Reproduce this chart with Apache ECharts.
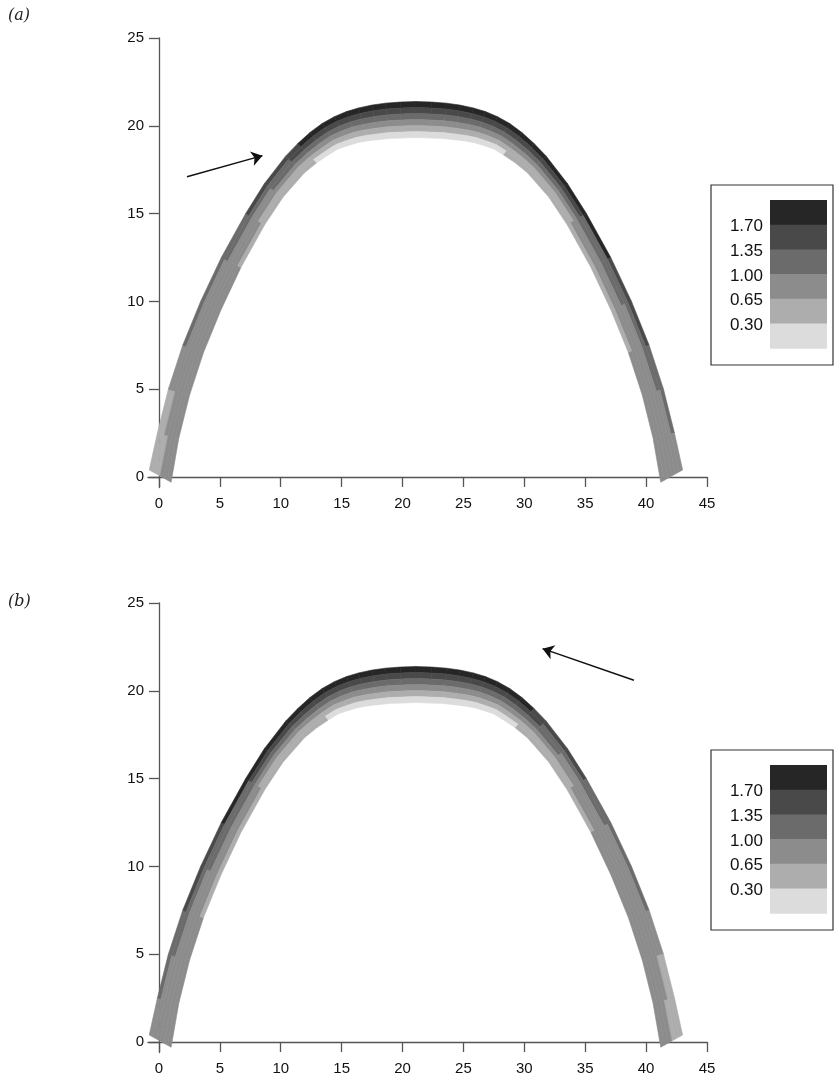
<!DOCTYPE html>
<html>
<head>
<meta charset="utf-8">
<script src="https://cdn.jsdelivr.net/npm/echarts@6/dist/echarts.min.js"></script>
<style>
  html, body { margin: 0; padding: 0; background: #fff; }
  #chart { width: 834px; height: 1080px; }
</style>
</head>
<body>
<div id="chart"></div>
<script>
// tick values
var xTicks = [0, 5, 10, 15, 20, 25, 30, 35, 40, 45]
var yTicks = [0, 5, 10, 15, 20, 25]

// contour levels and greys (lightest -> darkest)
var levelBreaks = [0.30, 0.65, 1.00, 1.35, 1.70]
var levelColors = ['#dcdcdc', '#adadad', '#8c8c8c', '#6b6b6b', '#494949', '#262626']

// arch edges, left foot -> crown -> right foot
var outerEdge = [
  [-0.8, 0.4], [-0.13, 2.5], [0.77, 5.0], [1.95, 7.5], [3.42, 10.0], [5.12, 12.5],
  [7.12, 15.0], [8.65, 16.7], [10.4, 18.27], [11.4, 18.99], [12.4, 19.62], [13.4, 20.13],
  [14.4, 20.52], [15.4, 20.81], [16.4, 21.02], [17.5, 21.18], [18.6, 21.29], [19.8, 21.35],
  [21.1, 21.38],
  [22.4, 21.35], [23.6, 21.29], [24.7, 21.18], [25.8, 21.02], [26.8, 20.81], [27.8, 20.52],
  [28.8, 20.13], [29.8, 19.62], [30.8, 18.99], [31.8, 18.27], [33.55, 16.7], [35.1, 15.0],
  [37.1, 12.5], [38.8, 10.0], [40.25, 7.5], [41.43, 5.0], [42.33, 2.5], [43.0, 0.4]
]
var innerEdge = [
  [1.0, -0.3], [1.63, 2.21], [2.51, 4.65], [3.65, 7.07], [5.08, 9.5], [6.73, 11.93],
  [8.68, 14.36], [10.2, 15.95], [11.95, 17.33], [12.95, 17.89], [13.91, 18.34], [14.74, 18.69],
  [15.55, 18.88], [16.32, 19.04], [17.1, 19.14], [18.0, 19.21], [18.91, 19.28], [19.95, 19.3],
  [21.1, 19.33],
  [22.25, 19.3], [23.29, 19.28], [24.2, 19.21], [25.1, 19.14], [25.88, 19.04], [26.65, 18.88],
  [27.46, 18.69], [28.29, 18.34], [29.25, 17.89], [30.25, 17.33], [32.0, 15.95], [33.52, 14.36],
  [35.47, 11.93], [37.12, 9.5], [38.55, 7.07], [39.69, 4.65], [40.57, 2.21], [41.2, -0.3]
]

// values per segment between stations, outer layer -> inner layer
var valuesA = [
  [0.50, 0.50, 0.55, 0.80, 0.80, 0.75],
  [0.55, 0.60, 0.80, 0.80, 0.80, 0.75],
  [0.90, 0.85, 0.80, 0.80, 0.75, 0.70],
  [1.02, 0.90, 0.85, 0.80, 0.75, 0.70],
  [1.05, 0.95, 0.85, 0.80, 0.75, 0.68],
  [1.20, 1.00, 0.90, 0.80, 0.70, 0.62],
  [1.40, 1.10, 0.95, 0.80, 0.60, 0.50],
  [1.55, 1.25, 1.00, 0.80, 0.55, 0.40],
  [1.65, 1.38, 1.05, 0.80, 0.55, 0.35],
  [1.72, 1.42, 1.10, 0.80, 0.50, 0.28],
  [1.75, 1.45, 1.10, 0.80, 0.50, 0.25],
  [1.78, 1.48, 1.12, 0.80, 0.48, 0.22],
  [1.80, 1.50, 1.15, 0.80, 0.45, 0.20],
  [1.82, 1.50, 1.15, 0.82, 0.45, 0.18],
  [1.85, 1.52, 1.18, 0.82, 0.45, 0.15],
  [1.85, 1.52, 1.18, 0.85, 0.45, 0.15],
  [1.85, 1.55, 1.20, 0.85, 0.45, 0.15],
  [1.85, 1.55, 1.20, 0.85, 0.45, 0.15],
  [1.85, 1.55, 1.20, 0.85, 0.45, 0.15],
  [1.85, 1.55, 1.20, 0.85, 0.45, 0.15],
  [1.85, 1.52, 1.18, 0.85, 0.45, 0.15],
  [1.85, 1.52, 1.18, 0.85, 0.45, 0.18],
  [1.85, 1.52, 1.18, 0.82, 0.48, 0.20],
  [1.82, 1.50, 1.15, 0.82, 0.50, 0.22],
  [1.80, 1.50, 1.15, 0.80, 0.50, 0.25],
  [1.80, 1.48, 1.12, 0.80, 0.52, 0.28],
  [1.78, 1.45, 1.10, 0.80, 0.55, 0.30],
  [1.75, 1.42, 1.10, 0.80, 0.55, 0.35],
  [1.75, 1.40, 1.08, 0.82, 0.60, 0.40],
  [1.72, 1.38, 1.05, 0.82, 0.62, 0.45],
  [1.72, 1.30, 1.02, 0.85, 0.65, 0.50],
  [1.50, 1.20, 1.00, 0.85, 0.68, 0.55],
  [1.40, 1.10, 0.95, 0.85, 0.70, 0.60],
  [1.15, 1.02, 0.90, 0.85, 0.75, 0.65],
  [1.05, 0.95, 0.88, 0.82, 0.75, 0.68],
  [0.95, 0.90, 0.85, 0.80, 0.75, 0.70]
]
var valuesB = [
  [0.95, 0.90, 0.85, 0.80, 0.75, 0.70],
  [1.05, 0.95, 0.88, 0.82, 0.75, 0.68],
  [1.15, 1.02, 0.90, 0.85, 0.75, 0.65],
  [1.40, 1.10, 0.95, 0.85, 0.70, 0.60],
  [1.50, 1.20, 1.00, 0.85, 0.68, 0.55],
  [1.72, 1.30, 1.02, 0.85, 0.65, 0.50],
  [1.72, 1.38, 1.05, 0.82, 0.62, 0.45],
  [1.75, 1.40, 1.08, 0.82, 0.60, 0.40],
  [1.75, 1.42, 1.10, 0.80, 0.55, 0.35],
  [1.78, 1.45, 1.10, 0.80, 0.55, 0.30],
  [1.80, 1.48, 1.12, 0.80, 0.52, 0.28],
  [1.80, 1.50, 1.15, 0.80, 0.50, 0.25],
  [1.82, 1.50, 1.15, 0.82, 0.50, 0.22],
  [1.85, 1.52, 1.18, 0.82, 0.48, 0.20],
  [1.85, 1.52, 1.18, 0.85, 0.45, 0.18],
  [1.85, 1.52, 1.18, 0.85, 0.45, 0.15],
  [1.85, 1.55, 1.20, 0.85, 0.45, 0.15],
  [1.85, 1.55, 1.20, 0.85, 0.45, 0.15],
  [1.85, 1.55, 1.20, 0.85, 0.45, 0.15],
  [1.85, 1.55, 1.20, 0.85, 0.45, 0.15],
  [1.85, 1.52, 1.18, 0.85, 0.45, 0.15],
  [1.85, 1.52, 1.18, 0.82, 0.45, 0.15],
  [1.82, 1.50, 1.15, 0.82, 0.45, 0.18],
  [1.80, 1.50, 1.15, 0.80, 0.45, 0.20],
  [1.78, 1.48, 1.12, 0.80, 0.48, 0.22],
  [1.75, 1.45, 1.10, 0.80, 0.50, 0.25],
  [1.72, 1.42, 1.10, 0.80, 0.50, 0.28],
  [1.65, 1.38, 1.05, 0.80, 0.55, 0.35],
  [1.55, 1.25, 1.00, 0.80, 0.55, 0.40],
  [1.40, 1.10, 0.95, 0.80, 0.60, 0.50],
  [1.20, 1.00, 0.90, 0.80, 0.70, 0.62],
  [1.05, 0.95, 0.85, 0.80, 0.75, 0.68],
  [1.02, 0.90, 0.85, 0.80, 0.75, 0.70],
  [0.90, 0.85, 0.80, 0.80, 0.75, 0.70],
  [0.55, 0.60, 0.80, 0.80, 0.80, 0.75],
  [0.50, 0.50, 0.55, 0.80, 0.80, 0.75]
]

// load arrows (data coords)
var arrowA = [[2.3, 17.1], [8.5, 18.3]]
var arrowB = [[39.0, 20.6], [31.5, 22.4]]

var chart = echarts.init(document.getElementById('chart'))
var nLayers = valuesA[0].length

function toCells(values) {
  let out = []
  values.forEach((row, s) => {
    row.forEach((v, l) => out.push([s, l, v]))
  })
  return out
}

function renderArch(params, api) {
  let s = api.value(0)
  let l = api.value(1)
  let f0 = l / nLayers
  let f1 = (l + 1) / nLayers
  let pt = (i, f) => api.coord([
    outerEdge[i][0] + (innerEdge[i][0] - outerEdge[i][0]) * f,
    outerEdge[i][1] + (innerEdge[i][1] - outerEdge[i][1]) * f,
  ])
  let color = api.visual('color')
  return {
    type: 'polygon',
    shape: { points: [pt(s, f0), pt(s + 1, f0), pt(s + 1, f1), pt(s, f1)] },
    style: { fill: color, stroke: color, lineWidth: 0.6 },
  }
}

function makeAxes(idx) {
  let font = { fontFamily: 'Liberation Sans', fontSize: 15, color: '#111' }
  let line = { color: '#555', width: 1.3 }
  return {
    x: {
      gridIndex: idx, type: 'value', min: -0.9, max: 45,
      axisLine: { onZero: true, lineStyle: line },
      axisTick: { customValues: xTicks, length: 10, lineStyle: line },
      axisLabel: Object.assign({ customValues: xTicks, margin: 9 }, font),
      splitLine: { show: false },
    },
    y: {
      gridIndex: idx, type: 'value', min: -0.6, max: 25,
      axisLine: { onZero: true, lineStyle: line },
      axisTick: { customValues: yTicks, length: 10, lineStyle: line },
      axisLabel: Object.assign({ customValues: yTicks, margin: 4 }, font),
      splitLine: { show: false },
    },
  }
}

function legendBox(top) {
  let items = [{
    type: 'rect',
    shape: { x: 711, y: top, width: 122, height: 180 },
    style: { fill: '#fff', stroke: '#333', lineWidth: 1.2 },
  }]
  let h = 24.7
  for (let i = 0; i < levelColors.length; i++) {
    items.push({
      type: 'rect',
      shape: { x: 770, y: top + 15 + i * h, width: 57, height: h + 0.5 },
      style: { fill: levelColors[levelColors.length - 1 - i] },
    })
  }
  for (let i = 0; i < levelBreaks.length; i++) {
    items.push({
      type: 'text',
      x: 763,
      y: top + 15 + (i + 1) * h + 2,
      style: {
        text: levelBreaks[levelBreaks.length - 1 - i].toFixed(2),
        fontFamily: 'Liberation Sans', fontSize: 17, fill: '#111',
        align: 'right', verticalAlign: 'middle',
      },
    })
  }
  return items
}

var axA = makeAxes(0)
var axB = makeAxes(1)
var pieces = levelColors.map((c, i) => {
  let p = { color: c }
  if (i > 0) p.gte = levelBreaks[i - 1]
  if (i < levelBreaks.length) p.lt = levelBreaks[i]
  return p
})

var option = {
  animation: false,
  backgroundColor: '#fff',
  title: [
    { text: '(a)', left: 8, top: 8, padding: 0,
      textStyle: { fontFamily: 'DejaVu Serif', fontStyle: 'italic', fontWeight: 'normal', fontSize: 16, color: '#222' } },
    { text: '(b)', left: 8, top: 594, padding: 0,
      textStyle: { fontFamily: 'DejaVu Serif', fontStyle: 'italic', fontWeight: 'normal', fontSize: 16, color: '#222' } },
  ],
  grid: [
    { left: 148, right: 127, top: 38, bottom: 592.5 },
    { left: 148, right: 127, top: 603, bottom: 27.5 },
  ],
  xAxis: [axA.x, axB.x],
  yAxis: [axA.y, axB.y],
  visualMap: {
    type: 'piecewise',
    show: false,
    dimension: 2,
    seriesIndex: [0, 1],
    pieces: pieces,
  },
  series: [
    { type: 'custom', xAxisIndex: 0, yAxisIndex: 0, renderItem: renderArch, data: toCells(valuesA) },
    { type: 'custom', xAxisIndex: 1, yAxisIndex: 1, renderItem: renderArch, data: toCells(valuesB) },
    { type: 'lines', coordinateSystem: 'cartesian2d', xAxisIndex: 0, yAxisIndex: 0,
      symbol: ['none', 'arrow'], symbolSize: 11,
      lineStyle: { color: '#111', width: 1.5, opacity: 1 },
      data: [{ coords: arrowA }] },
    { type: 'lines', coordinateSystem: 'cartesian2d', xAxisIndex: 1, yAxisIndex: 1,
      symbol: ['none', 'arrow'], symbolSize: 11,
      lineStyle: { color: '#111', width: 1.5, opacity: 1 },
      data: [{ coords: arrowB }] },
  ],
  graphic: legendBox(185).concat(legendBox(750)),
}

chart.setOption(option)
</script>
</body>
</html>
